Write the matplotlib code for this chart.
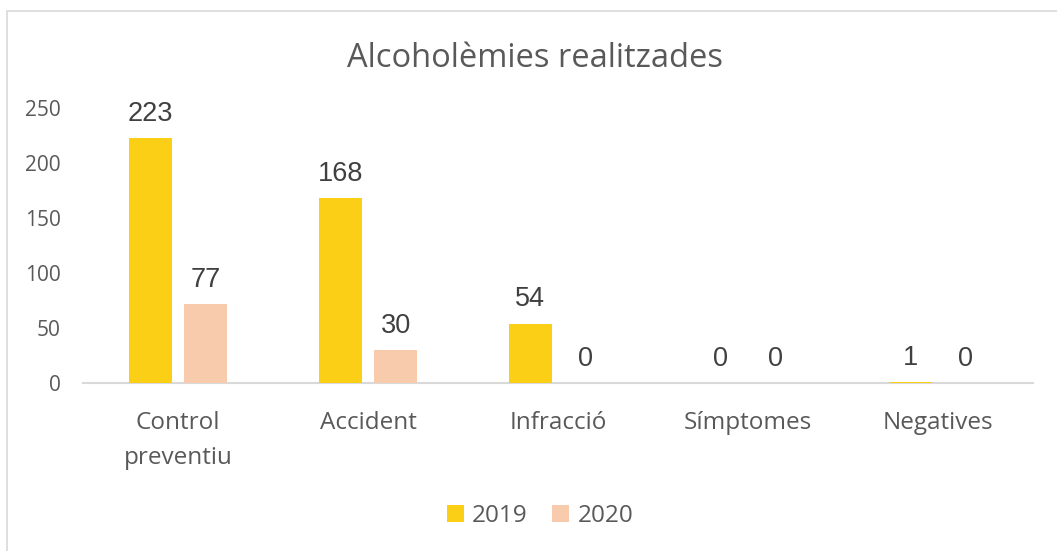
import matplotlib.pyplot as plt
import numpy as np
from matplotlib.patches import Rectangle

categories = ['Control\npreventiu', 'Accident', 'Infracció', 'Símptomes', 'Negatives']
series_names = ['2019', '2020']
# bar heights as drawn in the picture, labels as printed on it
values_2019 = [223, 168, 54, 0, 1]
values_2020 = [72, 30, 0, 0, 0]
labels_2019 = ['223', '168', '54', '0', '1']
labels_2020 = ['77', '30', '0', '0', '0']
yticks = [0, 50, 100, 150, 200, 250]

col_2019 = '#FCCF17'
col_2020 = '#F8CBAD'
text_grey = '#595959'
label_grey = '#404040'

W, H = 1057, 551
fig = plt.figure(figsize=(W / 100, H / 100), dpi=100)

# chart border (only the top and left edges show in the crop)
fig.patches.append(Rectangle((7 / W, -0.1), 1.2, (H - 10.5) / H + 0.1,
                             transform=fig.transFigure, fill=False,
                             edgecolor='#d9d9d9', linewidth=1.2))

ax = fig.add_axes([83 / W, (H - 383) / H, 950 / W, 275 / H])

x = np.arange(len(categories))
bw = 0.226
off = 0.145
b1 = ax.bar(x - off, values_2019, bw, color=col_2019, label=series_names[0], zorder=2)
b2 = ax.bar(x + off, values_2020, bw, color=col_2020, label=series_names[1], zorder=2)

for bars, labs in ((b1, labels_2019), (b2, labels_2020)):
    for rect, lab in zip(bars, labs):
        ax.annotate(lab, (rect.get_x() + rect.get_width() / 2, rect.get_height()),
                    xytext=(0, 8), textcoords='offset points', ha='center', va='bottom',
                    fontsize=19.5, color=label_grey, family='Liberation Sans')

ax.set_xlim(-0.5, len(categories) - 0.5)
ax.set_ylim(0, 250)
ax.set_yticks(yticks)
ax.set_xticks(x)
ax.set_xticklabels(categories, linespacing=1.65)
for lab in ax.get_xticklabels():
    lab.set_family('Open Sans')
    lab.set_fontsize(17.5)
    lab.set_color(text_grey)
for lab in ax.get_yticklabels():
    lab.set_family('Open Sans')
    lab.set_fontsize(15)
    lab.set_color(text_grey)
ax.tick_params(axis='x', length=0, pad=20)
ax.tick_params(axis='y', length=0, pad=16)
for s in ['top', 'right', 'left']:
    ax.spines[s].set_visible(False)
ax.spines['bottom'].set_color('#d9d9d9')
ax.spines['bottom'].set_linewidth(1.5)
ax.spines['bottom'].set_zorder(1)

fig.text(535 / W, (H - 67) / H, 'Alcoholèmies realitzades', ha='center', va='baseline',
         fontsize=23.5, color=text_grey, family='Open Sans')

leg = fig.legend(handles=[b1, b2], loc='center', bbox_to_anchor=(540 / W, (H - 516) / H),
                 ncol=2, frameon=False, handlelength=0.7, handleheight=0.7,
                 handletextpad=0.35, columnspacing=1.0,
                 prop={'family': 'Open Sans', 'size': 17.5})
for t in leg.get_texts():
    t.set_color(text_grey)

fig.savefig('out.png', dpi=100)
